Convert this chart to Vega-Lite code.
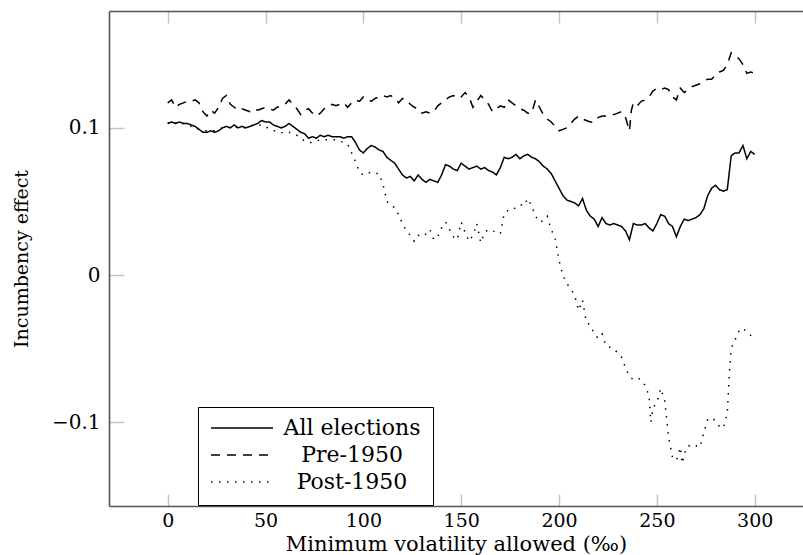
{
  "$schema": "https://vega.github.io/schema/vega-lite/v6.json",
  "width": 694,
  "height": 495,
  "autosize": {"type": "none"},
  "padding": {"left": 109, "top": 11, "right": 0, "bottom": 49},
  "background": "white",
  "config": {"view": {"stroke": null}, "font": "DejaVu Serif"},
  "data": {"values": [
{"s":"All elections","x":0,"v":0.103},{"s":"All elections","x":2,"v":0.104},{"s":"All elections","x":4,"v":0.103},{"s":"All elections","x":6,"v":0.104},{"s":"All elections","x":8,"v":0.103},{"s":"All elections","x":10,"v":0.103},{"s":"All elections","x":12,"v":0.102},{"s":"All elections","x":14,"v":0.101},{"s":"All elections","x":16,"v":0.099},{"s":"All elections","x":18,"v":0.097},{"s":"All elections","x":20,"v":0.097},{"s":"All elections","x":22,"v":0.098},{"s":"All elections","x":24,"v":0.097},{"s":"All elections","x":26,"v":0.098},{"s":"All elections","x":28,"v":0.100},{"s":"All elections","x":30,"v":0.101},{"s":"All elections","x":32,"v":0.100},{"s":"All elections","x":34,"v":0.102},{"s":"All elections","x":36,"v":0.100},{"s":"All elections","x":38,"v":0.101},{"s":"All elections","x":40,"v":0.100},{"s":"All elections","x":42,"v":0.101},{"s":"All elections","x":44,"v":0.102},{"s":"All elections","x":46,"v":0.103},{"s":"All elections","x":48,"v":0.105},{"s":"All elections","x":50,"v":0.104},{"s":"All elections","x":52,"v":0.104},{"s":"All elections","x":54,"v":0.102},{"s":"All elections","x":56,"v":0.101},{"s":"All elections","x":58,"v":0.100},{"s":"All elections","x":60,"v":0.101},{"s":"All elections","x":62,"v":0.103},{"s":"All elections","x":64,"v":0.101},{"s":"All elections","x":66,"v":0.099},{"s":"All elections","x":68,"v":0.097},{"s":"All elections","x":70,"v":0.096},{"s":"All elections","x":72,"v":0.093},{"s":"All elections","x":74,"v":0.094},{"s":"All elections","x":76,"v":0.093},{"s":"All elections","x":78,"v":0.095},{"s":"All elections","x":80,"v":0.094},{"s":"All elections","x":82,"v":0.095},{"s":"All elections","x":84,"v":0.094},{"s":"All elections","x":86,"v":0.094},{"s":"All elections","x":88,"v":0.094},{"s":"All elections","x":90,"v":0.093},{"s":"All elections","x":92,"v":0.094},{"s":"All elections","x":94,"v":0.094},{"s":"All elections","x":96,"v":0.090},{"s":"All elections","x":98,"v":0.085},{"s":"All elections","x":100,"v":0.083},{"s":"All elections","x":102,"v":0.086},{"s":"All elections","x":104,"v":0.088},{"s":"All elections","x":106,"v":0.087},{"s":"All elections","x":108,"v":0.085},{"s":"All elections","x":110,"v":0.084},{"s":"All elections","x":112,"v":0.080},{"s":"All elections","x":114,"v":0.078},{"s":"All elections","x":116,"v":0.076},{"s":"All elections","x":118,"v":0.072},{"s":"All elections","x":120,"v":0.068},{"s":"All elections","x":122,"v":0.066},{"s":"All elections","x":124,"v":0.067},{"s":"All elections","x":126,"v":0.064},{"s":"All elections","x":128,"v":0.068},{"s":"All elections","x":130,"v":0.065},{"s":"All elections","x":132,"v":0.063},{"s":"All elections","x":134,"v":0.065},{"s":"All elections","x":136,"v":0.064},{"s":"All elections","x":138,"v":0.063},{"s":"All elections","x":140,"v":0.068},{"s":"All elections","x":142,"v":0.075},{"s":"All elections","x":144,"v":0.074},{"s":"All elections","x":146,"v":0.072},{"s":"All elections","x":148,"v":0.071},{"s":"All elections","x":150,"v":0.076},{"s":"All elections","x":152,"v":0.074},{"s":"All elections","x":154,"v":0.072},{"s":"All elections","x":156,"v":0.073},{"s":"All elections","x":158,"v":0.074},{"s":"All elections","x":160,"v":0.072},{"s":"All elections","x":162,"v":0.073},{"s":"All elections","x":164,"v":0.071},{"s":"All elections","x":166,"v":0.070},{"s":"All elections","x":168,"v":0.068},{"s":"All elections","x":170,"v":0.073},{"s":"All elections","x":172,"v":0.080},{"s":"All elections","x":174,"v":0.079},{"s":"All elections","x":176,"v":0.080},{"s":"All elections","x":178,"v":0.082},{"s":"All elections","x":180,"v":0.079},{"s":"All elections","x":182,"v":0.081},{"s":"All elections","x":184,"v":0.082},{"s":"All elections","x":186,"v":0.080},{"s":"All elections","x":188,"v":0.079},{"s":"All elections","x":190,"v":0.077},{"s":"All elections","x":192,"v":0.074},{"s":"All elections","x":194,"v":0.072},{"s":"All elections","x":196,"v":0.069},{"s":"All elections","x":198,"v":0.064},{"s":"All elections","x":200,"v":0.059},{"s":"All elections","x":202,"v":0.054},{"s":"All elections","x":204,"v":0.051},{"s":"All elections","x":206,"v":0.050},{"s":"All elections","x":208,"v":0.049},{"s":"All elections","x":210,"v":0.047},{"s":"All elections","x":212,"v":0.052},{"s":"All elections","x":214,"v":0.044},{"s":"All elections","x":216,"v":0.040},{"s":"All elections","x":218,"v":0.038},{"s":"All elections","x":220,"v":0.033},{"s":"All elections","x":222,"v":0.039},{"s":"All elections","x":224,"v":0.035},{"s":"All elections","x":226,"v":0.034},{"s":"All elections","x":228,"v":0.035},{"s":"All elections","x":230,"v":0.034},{"s":"All elections","x":232,"v":0.033},{"s":"All elections","x":234,"v":0.030},{"s":"All elections","x":236,"v":0.024},{"s":"All elections","x":238,"v":0.035},{"s":"All elections","x":240,"v":0.034},{"s":"All elections","x":242,"v":0.034},{"s":"All elections","x":244,"v":0.035},{"s":"All elections","x":246,"v":0.032},{"s":"All elections","x":248,"v":0.030},{"s":"All elections","x":250,"v":0.035},{"s":"All elections","x":252,"v":0.041},{"s":"All elections","x":254,"v":0.040},{"s":"All elections","x":256,"v":0.035},{"s":"All elections","x":258,"v":0.033},{"s":"All elections","x":260,"v":0.026},{"s":"All elections","x":262,"v":0.033},{"s":"All elections","x":264,"v":0.038},{"s":"All elections","x":266,"v":0.037},{"s":"All elections","x":268,"v":0.038},{"s":"All elections","x":270,"v":0.039},{"s":"All elections","x":272,"v":0.041},{"s":"All elections","x":274,"v":0.045},{"s":"All elections","x":276,"v":0.054},{"s":"All elections","x":278,"v":0.059},{"s":"All elections","x":280,"v":0.061},{"s":"All elections","x":282,"v":0.058},{"s":"All elections","x":284,"v":0.057},{"s":"All elections","x":286,"v":0.058},{"s":"All elections","x":288,"v":0.081},{"s":"All elections","x":290,"v":0.083},{"s":"All elections","x":292,"v":0.083},{"s":"All elections","x":294,"v":0.088},{"s":"All elections","x":296,"v":0.079},{"s":"All elections","x":298,"v":0.084},{"s":"All elections","x":300,"v":0.082},
{"s":"Pre-1950","x":0,"v":0.117},{"s":"Pre-1950","x":2,"v":0.119},{"s":"Pre-1950","x":4,"v":0.114},{"s":"Pre-1950","x":6,"v":0.116},{"s":"Pre-1950","x":8,"v":0.117},{"s":"Pre-1950","x":10,"v":0.118},{"s":"Pre-1950","x":12,"v":0.118},{"s":"Pre-1950","x":14,"v":0.119},{"s":"Pre-1950","x":16,"v":0.117},{"s":"Pre-1950","x":18,"v":0.111},{"s":"Pre-1950","x":20,"v":0.108},{"s":"Pre-1950","x":22,"v":0.112},{"s":"Pre-1950","x":24,"v":0.110},{"s":"Pre-1950","x":26,"v":0.114},{"s":"Pre-1950","x":28,"v":0.120},{"s":"Pre-1950","x":30,"v":0.122},{"s":"Pre-1950","x":32,"v":0.116},{"s":"Pre-1950","x":34,"v":0.114},{"s":"Pre-1950","x":36,"v":0.112},{"s":"Pre-1950","x":38,"v":0.113},{"s":"Pre-1950","x":40,"v":0.112},{"s":"Pre-1950","x":42,"v":0.111},{"s":"Pre-1950","x":44,"v":0.113},{"s":"Pre-1950","x":46,"v":0.112},{"s":"Pre-1950","x":48,"v":0.113},{"s":"Pre-1950","x":50,"v":0.114},{"s":"Pre-1950","x":52,"v":0.113},{"s":"Pre-1950","x":54,"v":0.112},{"s":"Pre-1950","x":56,"v":0.114},{"s":"Pre-1950","x":58,"v":0.115},{"s":"Pre-1950","x":60,"v":0.116},{"s":"Pre-1950","x":62,"v":0.119},{"s":"Pre-1950","x":64,"v":0.116},{"s":"Pre-1950","x":66,"v":0.113},{"s":"Pre-1950","x":68,"v":0.109},{"s":"Pre-1950","x":70,"v":0.112},{"s":"Pre-1950","x":72,"v":0.113},{"s":"Pre-1950","x":74,"v":0.110},{"s":"Pre-1950","x":76,"v":0.108},{"s":"Pre-1950","x":78,"v":0.110},{"s":"Pre-1950","x":80,"v":0.113},{"s":"Pre-1950","x":82,"v":0.114},{"s":"Pre-1950","x":84,"v":0.116},{"s":"Pre-1950","x":86,"v":0.115},{"s":"Pre-1950","x":88,"v":0.116},{"s":"Pre-1950","x":90,"v":0.117},{"s":"Pre-1950","x":92,"v":0.114},{"s":"Pre-1950","x":94,"v":0.117},{"s":"Pre-1950","x":96,"v":0.119},{"s":"Pre-1950","x":98,"v":0.118},{"s":"Pre-1950","x":100,"v":0.121},{"s":"Pre-1950","x":102,"v":0.120},{"s":"Pre-1950","x":104,"v":0.118},{"s":"Pre-1950","x":106,"v":0.120},{"s":"Pre-1950","x":108,"v":0.121},{"s":"Pre-1950","x":110,"v":0.122},{"s":"Pre-1950","x":112,"v":0.121},{"s":"Pre-1950","x":114,"v":0.122},{"s":"Pre-1950","x":116,"v":0.120},{"s":"Pre-1950","x":118,"v":0.117},{"s":"Pre-1950","x":120,"v":0.120},{"s":"Pre-1950","x":122,"v":0.119},{"s":"Pre-1950","x":124,"v":0.116},{"s":"Pre-1950","x":126,"v":0.114},{"s":"Pre-1950","x":128,"v":0.113},{"s":"Pre-1950","x":130,"v":0.110},{"s":"Pre-1950","x":132,"v":0.111},{"s":"Pre-1950","x":134,"v":0.110},{"s":"Pre-1950","x":136,"v":0.111},{"s":"Pre-1950","x":138,"v":0.115},{"s":"Pre-1950","x":140,"v":0.117},{"s":"Pre-1950","x":142,"v":0.119},{"s":"Pre-1950","x":144,"v":0.121},{"s":"Pre-1950","x":146,"v":0.122},{"s":"Pre-1950","x":148,"v":0.120},{"s":"Pre-1950","x":150,"v":0.121},{"s":"Pre-1950","x":152,"v":0.124},{"s":"Pre-1950","x":154,"v":0.121},{"s":"Pre-1950","x":156,"v":0.114},{"s":"Pre-1950","x":158,"v":0.118},{"s":"Pre-1950","x":160,"v":0.122},{"s":"Pre-1950","x":162,"v":0.119},{"s":"Pre-1950","x":164,"v":0.116},{"s":"Pre-1950","x":166,"v":0.111},{"s":"Pre-1950","x":168,"v":0.113},{"s":"Pre-1950","x":170,"v":0.115},{"s":"Pre-1950","x":172,"v":0.114},{"s":"Pre-1950","x":174,"v":0.119},{"s":"Pre-1950","x":176,"v":0.117},{"s":"Pre-1950","x":178,"v":0.115},{"s":"Pre-1950","x":180,"v":0.113},{"s":"Pre-1950","x":182,"v":0.112},{"s":"Pre-1950","x":184,"v":0.110},{"s":"Pre-1950","x":186,"v":0.110},{"s":"Pre-1950","x":188,"v":0.119},{"s":"Pre-1950","x":190,"v":0.114},{"s":"Pre-1950","x":192,"v":0.109},{"s":"Pre-1950","x":194,"v":0.106},{"s":"Pre-1950","x":196,"v":0.104},{"s":"Pre-1950","x":198,"v":0.101},{"s":"Pre-1950","x":200,"v":0.098},{"s":"Pre-1950","x":202,"v":0.099},{"s":"Pre-1950","x":204,"v":0.100},{"s":"Pre-1950","x":206,"v":0.103},{"s":"Pre-1950","x":208,"v":0.106},{"s":"Pre-1950","x":210,"v":0.108},{"s":"Pre-1950","x":212,"v":0.106},{"s":"Pre-1950","x":214,"v":0.105},{"s":"Pre-1950","x":216,"v":0.104},{"s":"Pre-1950","x":218,"v":0.104},{"s":"Pre-1950","x":220,"v":0.107},{"s":"Pre-1950","x":222,"v":0.108},{"s":"Pre-1950","x":224,"v":0.108},{"s":"Pre-1950","x":226,"v":0.109},{"s":"Pre-1950","x":228,"v":0.109},{"s":"Pre-1950","x":230,"v":0.110},{"s":"Pre-1950","x":232,"v":0.111},{"s":"Pre-1950","x":234,"v":0.107},{"s":"Pre-1950","x":236,"v":0.098},{"s":"Pre-1950","x":237,"v":0.112},{"s":"Pre-1950","x":238,"v":0.117},{"s":"Pre-1950","x":240,"v":0.115},{"s":"Pre-1950","x":242,"v":0.118},{"s":"Pre-1950","x":244,"v":0.119},{"s":"Pre-1950","x":246,"v":0.121},{"s":"Pre-1950","x":248,"v":0.125},{"s":"Pre-1950","x":250,"v":0.127},{"s":"Pre-1950","x":252,"v":0.126},{"s":"Pre-1950","x":254,"v":0.127},{"s":"Pre-1950","x":256,"v":0.126},{"s":"Pre-1950","x":258,"v":0.121},{"s":"Pre-1950","x":260,"v":0.119},{"s":"Pre-1950","x":262,"v":0.127},{"s":"Pre-1950","x":264,"v":0.124},{"s":"Pre-1950","x":266,"v":0.126},{"s":"Pre-1950","x":268,"v":0.128},{"s":"Pre-1950","x":270,"v":0.129},{"s":"Pre-1950","x":272,"v":0.130},{"s":"Pre-1950","x":274,"v":0.132},{"s":"Pre-1950","x":276,"v":0.133},{"s":"Pre-1950","x":278,"v":0.133},{"s":"Pre-1950","x":280,"v":0.136},{"s":"Pre-1950","x":282,"v":0.138},{"s":"Pre-1950","x":284,"v":0.139},{"s":"Pre-1950","x":286,"v":0.143},{"s":"Pre-1950","x":288,"v":0.151},{"s":"Pre-1950","x":290,"v":0.149},{"s":"Pre-1950","x":292,"v":0.147},{"s":"Pre-1950","x":294,"v":0.143},{"s":"Pre-1950","x":296,"v":0.137},{"s":"Pre-1950","x":298,"v":0.138},{"s":"Pre-1950","x":300,"v":0.137},
{"s":"Post-1950","x":0,"v":0.103},{"s":"Post-1950","x":2,"v":0.104},{"s":"Post-1950","x":4,"v":0.103},{"s":"Post-1950","x":6,"v":0.104},{"s":"Post-1950","x":8,"v":0.103},{"s":"Post-1950","x":10,"v":0.102},{"s":"Post-1950","x":12,"v":0.101},{"s":"Post-1950","x":14,"v":0.100},{"s":"Post-1950","x":16,"v":0.099},{"s":"Post-1950","x":18,"v":0.098},{"s":"Post-1950","x":20,"v":0.098},{"s":"Post-1950","x":22,"v":0.098},{"s":"Post-1950","x":24,"v":0.098},{"s":"Post-1950","x":26,"v":0.099},{"s":"Post-1950","x":28,"v":0.100},{"s":"Post-1950","x":30,"v":0.101},{"s":"Post-1950","x":32,"v":0.100},{"s":"Post-1950","x":34,"v":0.101},{"s":"Post-1950","x":36,"v":0.100},{"s":"Post-1950","x":38,"v":0.100},{"s":"Post-1950","x":40,"v":0.100},{"s":"Post-1950","x":42,"v":0.101},{"s":"Post-1950","x":44,"v":0.102},{"s":"Post-1950","x":46,"v":0.102},{"s":"Post-1950","x":48,"v":0.102},{"s":"Post-1950","x":50,"v":0.101},{"s":"Post-1950","x":52,"v":0.099},{"s":"Post-1950","x":54,"v":0.098},{"s":"Post-1950","x":56,"v":0.098},{"s":"Post-1950","x":58,"v":0.097},{"s":"Post-1950","x":60,"v":0.096},{"s":"Post-1950","x":62,"v":0.097},{"s":"Post-1950","x":64,"v":0.096},{"s":"Post-1950","x":66,"v":0.095},{"s":"Post-1950","x":68,"v":0.093},{"s":"Post-1950","x":70,"v":0.091},{"s":"Post-1950","x":72,"v":0.090},{"s":"Post-1950","x":74,"v":0.090},{"s":"Post-1950","x":76,"v":0.091},{"s":"Post-1950","x":78,"v":0.092},{"s":"Post-1950","x":80,"v":0.092},{"s":"Post-1950","x":82,"v":0.092},{"s":"Post-1950","x":84,"v":0.092},{"s":"Post-1950","x":86,"v":0.092},{"s":"Post-1950","x":88,"v":0.091},{"s":"Post-1950","x":90,"v":0.090},{"s":"Post-1950","x":92,"v":0.089},{"s":"Post-1950","x":94,"v":0.083},{"s":"Post-1950","x":96,"v":0.077},{"s":"Post-1950","x":98,"v":0.070},{"s":"Post-1950","x":100,"v":0.068},{"s":"Post-1950","x":102,"v":0.069},{"s":"Post-1950","x":104,"v":0.070},{"s":"Post-1950","x":106,"v":0.069},{"s":"Post-1950","x":108,"v":0.069},{"s":"Post-1950","x":110,"v":0.062},{"s":"Post-1950","x":112,"v":0.050},{"s":"Post-1950","x":114,"v":0.047},{"s":"Post-1950","x":116,"v":0.046},{"s":"Post-1950","x":118,"v":0.041},{"s":"Post-1950","x":120,"v":0.035},{"s":"Post-1950","x":122,"v":0.030},{"s":"Post-1950","x":124,"v":0.027},{"s":"Post-1950","x":126,"v":0.023},{"s":"Post-1950","x":128,"v":0.027},{"s":"Post-1950","x":130,"v":0.026},{"s":"Post-1950","x":132,"v":0.028},{"s":"Post-1950","x":134,"v":0.031},{"s":"Post-1950","x":136,"v":0.024},{"s":"Post-1950","x":138,"v":0.026},{"s":"Post-1950","x":140,"v":0.032},{"s":"Post-1950","x":142,"v":0.036},{"s":"Post-1950","x":144,"v":0.031},{"s":"Post-1950","x":146,"v":0.026},{"s":"Post-1950","x":148,"v":0.024},{"s":"Post-1950","x":150,"v":0.036},{"s":"Post-1950","x":152,"v":0.029},{"s":"Post-1950","x":154,"v":0.023},{"s":"Post-1950","x":156,"v":0.027},{"s":"Post-1950","x":158,"v":0.035},{"s":"Post-1950","x":160,"v":0.022},{"s":"Post-1950","x":162,"v":0.029},{"s":"Post-1950","x":164,"v":0.031},{"s":"Post-1950","x":166,"v":0.030},{"s":"Post-1950","x":168,"v":0.029},{"s":"Post-1950","x":170,"v":0.028},{"s":"Post-1950","x":172,"v":0.042},{"s":"Post-1950","x":174,"v":0.044},{"s":"Post-1950","x":176,"v":0.044},{"s":"Post-1950","x":178,"v":0.046},{"s":"Post-1950","x":180,"v":0.048},{"s":"Post-1950","x":182,"v":0.047},{"s":"Post-1950","x":184,"v":0.052},{"s":"Post-1950","x":186,"v":0.047},{"s":"Post-1950","x":188,"v":0.040},{"s":"Post-1950","x":190,"v":0.036},{"s":"Post-1950","x":192,"v":0.037},{"s":"Post-1950","x":194,"v":0.040},{"s":"Post-1950","x":196,"v":0.031},{"s":"Post-1950","x":198,"v":0.025},{"s":"Post-1950","x":200,"v":0.010},{"s":"Post-1950","x":202,"v":0.000},{"s":"Post-1950","x":204,"v":-0.006},{"s":"Post-1950","x":206,"v":-0.009},{"s":"Post-1950","x":208,"v":-0.014},{"s":"Post-1950","x":210,"v":-0.024},{"s":"Post-1950","x":212,"v":-0.017},{"s":"Post-1950","x":214,"v":-0.032},{"s":"Post-1950","x":216,"v":-0.034},{"s":"Post-1950","x":218,"v":-0.040},{"s":"Post-1950","x":220,"v":-0.043},{"s":"Post-1950","x":222,"v":-0.040},{"s":"Post-1950","x":224,"v":-0.048},{"s":"Post-1950","x":226,"v":-0.049},{"s":"Post-1950","x":228,"v":-0.050},{"s":"Post-1950","x":230,"v":-0.053},{"s":"Post-1950","x":232,"v":-0.056},{"s":"Post-1950","x":234,"v":-0.063},{"s":"Post-1950","x":236,"v":-0.069},{"s":"Post-1950","x":238,"v":-0.071},{"s":"Post-1950","x":240,"v":-0.070},{"s":"Post-1950","x":242,"v":-0.071},{"s":"Post-1950","x":244,"v":-0.075},{"s":"Post-1950","x":246,"v":-0.082},{"s":"Post-1950","x":247,"v":-0.100},{"s":"Post-1950","x":248,"v":-0.090},{"s":"Post-1950","x":250,"v":-0.087},{"s":"Post-1950","x":252,"v":-0.077},{"s":"Post-1950","x":254,"v":-0.085},{"s":"Post-1950","x":256,"v":-0.110},{"s":"Post-1950","x":258,"v":-0.124},{"s":"Post-1950","x":260,"v":-0.126},{"s":"Post-1950","x":262,"v":-0.117},{"s":"Post-1950","x":263,"v":-0.128},{"s":"Post-1950","x":265,"v":-0.117},{"s":"Post-1950","x":268,"v":-0.115},{"s":"Post-1950","x":270,"v":-0.116},{"s":"Post-1950","x":272,"v":-0.117},{"s":"Post-1950","x":274,"v":-0.107},{"s":"Post-1950","x":276,"v":-0.098},{"s":"Post-1950","x":278,"v":-0.097},{"s":"Post-1950","x":280,"v":-0.099},{"s":"Post-1950","x":282,"v":-0.103},{"s":"Post-1950","x":284,"v":-0.104},{"s":"Post-1950","x":286,"v":-0.094},{"s":"Post-1950","x":287,"v":-0.068},{"s":"Post-1950","x":288,"v":-0.050},{"s":"Post-1950","x":290,"v":-0.044},{"s":"Post-1950","x":292,"v":-0.038},{"s":"Post-1950","x":294,"v":-0.036},{"s":"Post-1950","x":296,"v":-0.039},{"s":"Post-1950","x":298,"v":-0.041},{"s":"Post-1950","x":300,"v":-0.042}
  ]},
  "layer": [
    {
      "mark": {"type": "line", "color": "black", "strokeWidth": 1.5, "strokeCap": "butt"},
      "encoding": {
        "x": {
          "field": "x", "type": "quantitative",
          "scale": {"domain": [-30, 324.7], "nice": false, "zero": false},
          "axis": {
            "orient": "bottom", "values": [0, 50, 100, 150, 200, 250, 300], "format": "d", "grid": false,
            "tickSize": -12, "tickColor": "#c4c4c4", "tickWidth": 1.5,
            "domainColor": "#555555", "domainWidth": 1.6,
            "labelFont": "DejaVu Serif", "labelFontSize": 19, "labelColor": "black", "labelPadding": 17,
            "title": "Minimum volatility allowed (‰)", "titleFont": "DejaVu Serif", "titleFontSize": 21,
            "titleFontWeight": "normal", "titleColor": "black", "titlePadding": 3
          }
        },
        "y": {
          "field": "v", "type": "quantitative",
          "scale": {"domain": [-0.1569, 0.1794], "nice": false, "zero": false},
          "axis": {
            "values": [-0.1, 0, 0.1], "format": "~g", "grid": false,
            "tickSize": -15, "tickColor": "#c4c4c4", "tickWidth": 1.5,
            "domainColor": "#555555", "domainWidth": 1.6,
            "labelFont": "DejaVu Serif", "labelFontSize": 20, "labelColor": "black", "labelPadding": 24,
            "title": "Incumbency effect", "titleFont": "DejaVu Serif", "titleFontSize": 19,
            "titleFontWeight": "normal", "titleColor": "black", "titlePadding": 20
          }
        },
        "strokeDash": {
          "field": "s", "type": "nominal",
          "scale": {"domain": ["All elections", "Pre-1950", "Post-1950"], "range": [[1, 0], [9, 7], [1.5, 6.5]]},
          "legend": {
            "orient": "none", "legendX": 89, "legendY": 396, "title": null,
            "symbolType": "stroke", "symbolSize": 3844, "symbolStrokeWidth": 1.5, "symbolStrokeColor": "black",
            "clipHeight": 18, "rowPadding": 5, "padding": 12,
            "strokeColor": "black", "fillColor": "white",
            "labelFont": "DejaVu Serif", "labelFontSize": 22, "labelColor": "black",
            "labelAlign": "center", "labelOffset": 78, "labelLimit": 400
          }
        }
      }
    },
    {
      "mark": {"type": "point", "opacity": 0},
      "encoding": {
        "x": {
          "field": "x", "type": "quantitative",
          "axis": {
            "orient": "top", "values": [0, 50, 100, 150, 200, 250, 300], "labels": false, "title": null, "grid": false,
            "tickSize": -12, "tickColor": "#c4c4c4", "tickWidth": 1.5,
            "domainColor": "#555555", "domainWidth": 1.6
          }
        }
      }
    }
  ],
  "resolve": {"axis": {"x": "independent"}}
}
